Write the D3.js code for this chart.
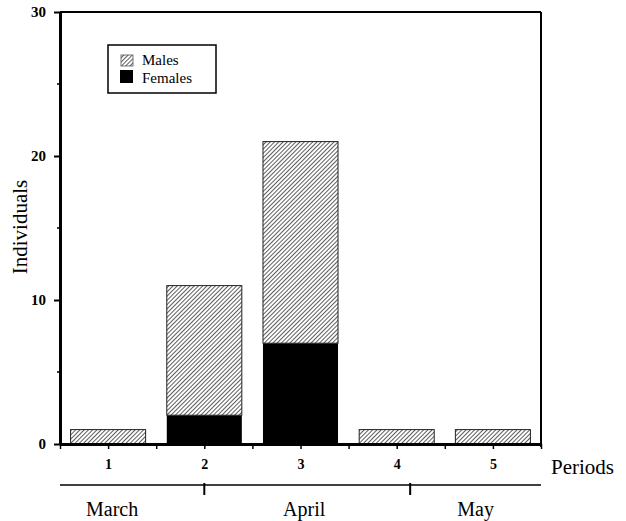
<!DOCTYPE html>
<html>
<head>
<meta charset="utf-8">
<script src="https://cdn.jsdelivr.net/npm/d3@7"></script>
<style>
body{margin:0;background:#fff;}
svg text{font-family:"Liberation Serif","Times New Roman",serif;}
</style>
</head>
<body>
<div id="chart"></div>
<script>
// data
var periods = ['1', '2', '3', '4', '5'];
var males = [1, 9, 14, 1, 1];
var females = [0, 2, 7, 0, 0];
var yTicks = [0, 10, 20, 30];
var yMinor = [5, 15, 25];
var months = ['March', 'April', 'May'];
var monthBreaks = [2, 4.14];   // in period units

var width = 626, height = 521;
var plotLeft = 60, plotRight = 541, plotTop = 12, plotBottom = 444;

var svg = d3.select('#chart').append('svg')
    .attr('width', width)
    .attr('height', height);

var defs = svg.append('defs');
var pat = defs.append('pattern')
    .attr('id', 'hatch')
    .attr('patternUnits', 'userSpaceOnUse')
    .attr('width', 3)
    .attr('height', 3)
    .attr('patternTransform', 'rotate(45)');
pat.append('rect').attr('width', 3).attr('height', 3).attr('fill', '#fff');
pat.append('line')
    .attr('x1', 0).attr('y1', 0).attr('x2', 0).attr('y2', 3)
    .attr('stroke', '#333').attr('stroke-width', 1.6);

var x = d3.scaleBand().domain(periods).range([plotLeft, plotRight]).paddingInner(0.22).paddingOuter(0.11);
var xl = d3.scaleLinear().domain([0.5, 5.5]).range([plotLeft, plotRight]);
var y = d3.scaleLinear().domain([0, 30]).range([plotBottom, plotTop]);

//bars
var g = svg.append('g');
for(var i=0; i<periods.length; i++){
    var bx = x(periods[i]);
    var bw = x.bandwidth();
    if(females[i] > 0){
        g.append('rect')
            .attr('x', bx).attr('y', y(females[i]))
            .attr('width', bw).attr('height', y(0) - y(females[i]))
            .attr('fill', '#000');
    }
    var total = females[i] + males[i];
    g.append('rect')
        .attr('x', bx).attr('y', y(total))
        .attr('width', bw).attr('height', y(females[i]) - y(total))
        .attr('fill', 'url(#hatch)')
        .attr('stroke', '#222').attr('stroke-width', 1);
}

//frame
svg.append('line').attr('x1', plotLeft).attr('x2', plotRight).attr('y1', plotTop).attr('y2', plotTop)
    .attr('stroke', '#000').attr('stroke-width', 2);
svg.append('line').attr('x1', plotRight).attr('x2', plotRight).attr('y1', plotTop).attr('y2', plotBottom + 3)
    .attr('stroke', '#000').attr('stroke-width', 2);

//axis-y
var axisY = d3.axisLeft(y).tickValues(yTicks).tickSize(6).tickSizeOuter(0);
var $axisY = svg.append('g').attr('transform', 'translate(' + plotLeft + ',0)').call(axisY);
$axisY.select('.domain').attr('stroke-width', 3);
$axisY.selectAll('.tick line').attr('stroke-width', 2);
$axisY.selectAll('.tick text')
    .attr('x', -14)
    .style('font-size', '15px')
    .style('font-weight', 'bold');
$axisY.selectAll('.minor').data(yMinor).enter().append('line')
    .attr('x1', -3).attr('x2', 0)
    .attr('y1', function(d){ return y(d); }).attr('y2', function(d){ return y(d); })
    .attr('stroke', '#000').attr('stroke-width', 1.5);

//axis-x
var xTickVals = [];
for(var k=0; k<=10; k++){ xTickVals.push(0.5 + k*0.5); }
var axisX = d3.axisBottom(xl).tickValues(xTickVals).tickSize(5).tickSizeOuter(0)
    .tickFormat(function(d){ return d % 1 === 0 ? String(d) : ''; });
var $axisX = svg.append('g').attr('transform', 'translate(0,' + plotBottom + ')').call(axisX);
$axisX.select('.domain').attr('stroke-width', 3);
$axisX.selectAll('.tick line').attr('stroke-width', 1.5);
$axisX.selectAll('.tick text')
    .attr('y', 15)
    .style('font-size', '14px')
    .style('font-weight', 'bold');

svg.append('text')
    .attr('x', 551).attr('y', 474)
    .style('font-size', '21px')
    .text('Periods');

svg.append('text')
    .attr('transform', 'translate(27,227) rotate(-90)')
    .attr('text-anchor', 'middle')
    .style('font-size', '21px')
    .text('Individuals');

//months
var monthY = 485;
svg.append('line').attr('x1', plotLeft).attr('x2', plotRight).attr('y1', monthY).attr('y2', monthY)
    .attr('stroke', '#000').attr('stroke-width', 1.5);
svg.selectAll('.month-tick').data(monthBreaks).enter().append('line')
    .attr('x1', function(d){ return xl(d); }).attr('x2', function(d){ return xl(d); })
    .attr('y1', monthY - 2).attr('y2', monthY + 10)
    .attr('stroke', '#000').attr('stroke-width', 2);
var bounds = [0.5].concat(monthBreaks).concat([5.5]);
svg.selectAll('.month').data(months).enter().append('text')
    .attr('x', function(d, i){ return (xl(bounds[i]) + xl(bounds[i+1])) / 2 + (i===0 ? -20 : (i===1 ? -3 : 0)); })
    .attr('y', 516)
    .attr('text-anchor', 'middle')
    .style('font-size', '20px')
    .text(function(d){ return d; });

//legend
var lg = svg.append('g');
lg.append('rect').attr('x', 108).attr('y', 45).attr('width', 108).attr('height', 48)
    .attr('fill', '#fff').attr('stroke', '#000').attr('stroke-width', 1.5);
lg.append('rect').attr('x', 121).attr('y', 55).attr('width', 12).attr('height', 11)
    .attr('fill', 'url(#hatch)').attr('stroke', '#555').attr('stroke-width', 0.8);
lg.append('rect').attr('x', 120).attr('y', 70).attr('width', 13).attr('height', 13)
    .attr('fill', '#000');
lg.append('text').attr('x', 142).attr('y', 65).style('font-size', '15px').text('Males');
lg.append('text').attr('x', 142).attr('y', 83).style('font-size', '15px').text('Females');
</script>
</body>
</html>
